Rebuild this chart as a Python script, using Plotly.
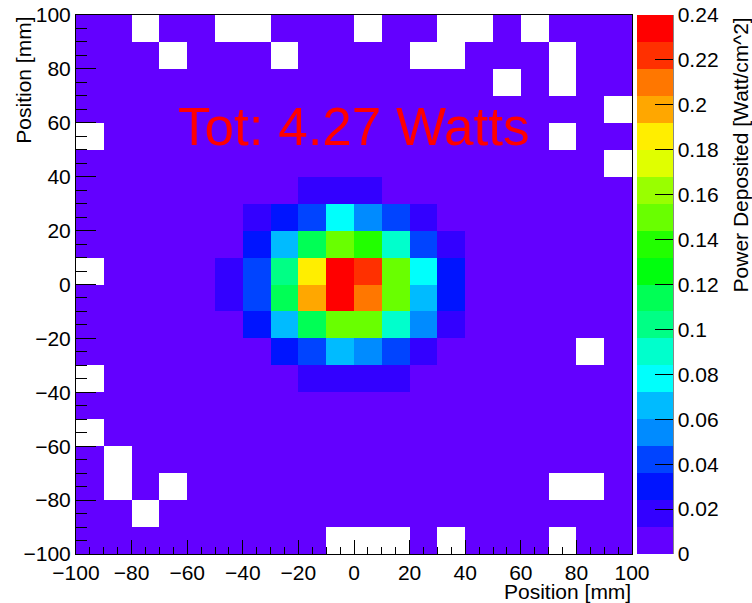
import colorsys
import plotly.graph_objects as go

# ---------------- data ----------------
x_centers = [-95, -85, -75, -65, -55, -45, -35, -25, -15, -5,
             5, 15, 25, 35, 45, 55, 65, 75, 85, 95]
y_centers_top_down = [95, 85, 75, 65, 55, 45, 35, 25, 15, 5,
                      -5, -15, -25, -35, -45, -55, -65, -75, -85, -95]

P = 0.004  # faint background deposit (lowest colour band)

# power deposited [Watt/cm^2], rows listed from top (y=95) to bottom (y=-95); 0 = empty bin
power_rows = [
    [P, P, 0, P, P, 0, 0, P, P, P, 0, P, P, 0, 0, P, 0, P, P, P],
    [P, P, P, 0, P, P, P, 0, P, P, P, P, 0, 0, P, P, P, 0, P, P],
    [P, P, P, P, P, P, P, P, P, P, P, P, P, P, P, 0, P, 0, P, P],
    [P, P, P, P, P, P, P, P, P, P, P, P, P, P, P, P, P, P, P, 0],
    [0, P, P, P, P, P, P, P, P, P, P, P, P, P, P, P, P, 0, P, P],
    [P, P, P, P, P, P, P, P, P, P, P, P, P, P, P, P, P, P, P, 0],
    [P, P, P, P, P, P, P, P, 0.018, 0.018, 0.018, P, P, P, P, P, P, P, P, P],
    [P, P, P, P, P, P, 0.018, 0.030, 0.042, 0.078, 0.054, 0.042, 0.018, P, P, P, P, P, P, P],
    [P, P, P, P, P, P, 0.030, 0.066, 0.114, 0.150, 0.138, 0.090, 0.042, 0.018, P, P, P, P, P, P],
    [0, P, P, P, P, 0.018, 0.042, 0.102, 0.186, 0.234, 0.222, 0.150, 0.078, 0.030, P, P, P, P, P, P],
    [P, P, P, P, P, 0.018, 0.042, 0.114, 0.198, 0.234, 0.210, 0.150, 0.066, 0.030, P, P, P, P, P, P],
    [P, P, P, P, P, P, 0.030, 0.066, 0.114, 0.150, 0.150, 0.090, 0.054, 0.018, P, P, P, P, P, P],
    [P, P, P, P, P, P, P, 0.030, 0.042, 0.066, 0.054, 0.042, 0.018, P, P, P, P, P, 0, P],
    [0, P, P, P, P, P, P, P, 0.018, 0.018, 0.018, 0.018, P, P, P, P, P, P, P, P],
    [P, P, P, P, P, P, P, P, P, P, P, P, P, P, P, P, P, P, P, P],
    [0, P, P, P, P, P, P, P, P, P, P, P, P, P, P, P, P, P, P, P],
    [P, 0, P, P, P, P, P, P, P, P, P, P, P, P, P, P, P, P, P, P],
    [P, 0, P, 0, P, P, P, P, P, P, P, P, P, P, P, P, P, 0, 0, P],
    [P, P, 0, P, P, P, P, P, P, P, P, P, P, P, P, P, P, P, P, P],
    [P, P, P, P, P, P, P, P, P, 0, 0, 0, P, 0, P, P, P, 0, P, P],
]

x_ticks = [-100, -80, -60, -40, -20, 0, 20, 40, 60, 80, 100]
y_ticks = [-100, -80, -60, -40, -20, 0, 20, 40, 60, 80, 100]
cbar_ticks = [0, 0.02, 0.04, 0.06, 0.08, 0.1, 0.12, 0.14, 0.16, 0.18, 0.2, 0.22, 0.24]
cbar_ticktext = ["0", "0.02", "0.04", "0.06", "0.08", "0.1", "0.12", "0.14",
                 "0.16", "0.18", "0.2", "0.22", "0.24"]
z_min, z_max = 0.0, 0.24
total_text = "Tot: 4.27 Watts"

# ---------------- ROOT-like discrete rainbow palette (20 contours of 50-colour palette) ----------------
n_levels = 20
n_pal = 50
colorscale = []
for j in range(n_levels):
    idx = int((j + 0.99) * n_pal / n_levels)
    if idx >= n_pal - 1:
        r, g, b = 1.0, 0.0, 0.0
    else:
        hue = 280.0 - (idx + 1) * (280.0 / n_pal)
        r, g, b = colorsys.hls_to_rgb(hue / 360.0, 0.5, 1.0)
    col = "rgb(%d,%d,%d)" % (round(r * 255), round(g * 255), round(b * 255))
    colorscale.append([j / n_levels, col])
    colorscale.append([(j + 1) / n_levels, col])

# empty bins are not drawn (as in ROOT COLZ)
z = [[(v if v > 0 else None) for v in row] for row in power_rows]

FONT = "Liberation Sans, Arial, Helvetica, sans-serif"

fig = go.Figure(go.Heatmap(
    x=x_centers, y=y_centers_top_down, z=z,
    zmin=z_min, zmax=z_max, colorscale=colorscale,
    hoverongaps=False,
    colorbar=dict(
        x=1.009, xanchor="left", xpad=0, ypad=0,
        y=0.5, yanchor="middle", len=1, lenmode="fraction",
        thickness=36, thicknessmode="pixels",
        outlinewidth=0,
        tickmode="array", tickvals=cbar_ticks, ticktext=cbar_ticktext,
        ticks="inside", ticklen=18, tickcolor="black", tickwidth=1,
        tickfont=dict(family=FONT, size=21, color="black"),
    ),
))

axis_common = dict(
    showgrid=False, zeroline=False,
    showline=True, mirror=True, linecolor="black", linewidth=1,
    ticks="inside", tickcolor="black", tickwidth=1,
    tickfont=dict(family=FONT, size=21, color="black"),
    tickmode="array",
)

fig.update_xaxes(range=[-100, 100], tickvals=x_ticks, ticklen=14,
                 minor=dict(dtick=5, tick0=0, ticks="inside", ticklen=7, tickcolor="black"),
                 **axis_common)
fig.update_yaxes(range=[-100, 100], tickvals=y_ticks, ticklen=20,
                 minor=dict(dtick=5, tick0=0, ticks="inside", ticklen=11, tickcolor="black"),
                 **axis_common)

fig.add_annotation(x=-64.2, y=58.5, xref="x", yref="y", text=total_text,
                   showarrow=False, xanchor="left", yanchor="middle",
                   font=dict(family=FONT, size=53, color="red"))
fig.add_annotation(x=1.0018, y=-0.069, xref="paper", yref="paper", text="Position [mm]",
                   showarrow=False, xanchor="right", yanchor="middle",
                   font=dict(family=FONT, size=21, color="black"))
fig.add_annotation(x=-0.095, y=1.0, xref="paper", yref="paper", text="Position [mm]",
                   showarrow=False, xanchor="center", yanchor="top", textangle=-90,
                   font=dict(family=FONT, size=21, color="black"))
fig.add_annotation(x=1.196, y=1.0, xref="paper", yref="paper",
                   text="Power Deposited [Watt/cm^2]",
                   showarrow=False, xanchor="center", yanchor="top", textangle=-90,
                   font=dict(family=FONT, size=21, color="black"))

# right edge of the palette box
fig.add_shape(type="line", xref="paper", yref="paper", x0=1.0737, x1=1.0737, y0=0, y1=1,
              line=dict(color="black", width=1))

fig.update_layout(
    width=752, height=603,
    margin=dict(l=76, r=120, t=15, b=49, autoexpand=False),
    paper_bgcolor="white", plot_bgcolor="white",
    showlegend=False,
)

fig.write_html("out.html",
               config={"displayModeBar": False},
               post_script="document.body.style.margin='0';document.body.style.padding='0';")
